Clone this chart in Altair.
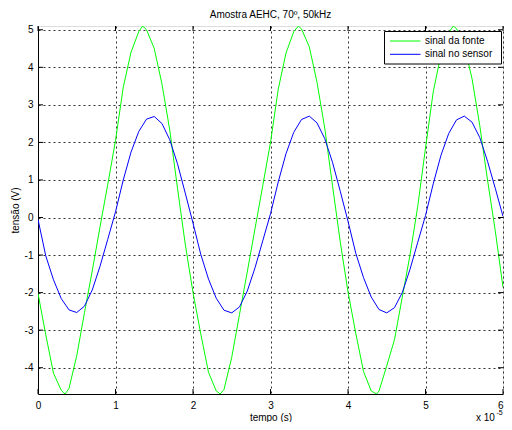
import altair as alt
import pandas as pd

# ---- data (time in units of 1e-5 s, voltage in V) ----
green_t = [0.0, 0.1, 0.2, 0.3, 0.35, 0.4, 0.5, 0.6, 0.7, 0.8, 0.9, 1.0, 1.1, 1.2, 1.3, 1.35, 1.4, 1.5, 1.6, 1.7, 1.8, 1.9,
           2.0, 2.1, 2.2, 2.3, 2.35, 2.4, 2.5, 2.6, 2.7, 2.8, 2.9, 3.0, 3.1, 3.2, 3.3, 3.36, 3.4, 3.5, 3.6, 3.7, 3.8, 3.9,
           4.0, 4.1, 4.2, 4.3, 4.37, 4.4, 4.5, 4.6, 4.7, 4.8, 4.9, 5.0, 5.1, 5.2, 5.3, 5.36, 5.4, 5.5, 5.6, 5.7, 5.8, 5.9,
           6.0]
green_v = [-2.02, -3.12, -4.15, -4.60, -4.70, -4.55, -3.68, -2.53, -1.42, -0.25, 0.88, 2.05, 3.47, 4.40, 4.95, 5.10, 5.00, 4.50, 3.55, 2.33, 0.78, -0.71,
           -2.00, -3.10, -4.12, -4.62, -4.70, -4.58, -3.72, -2.58, -1.45, -0.30, 0.85, 2.00, 3.42, 4.38, 4.95, 5.10, 5.02, 4.55, 3.60, 2.38, 0.85, -0.65,
           -1.98, -3.08, -4.10, -4.62, -4.70, -4.62, -3.95, -3.25, -2.12, -1.00, 0.30, 1.85, 3.35, 4.35, 4.93, 5.10, 5.03, 4.58, 3.70, 2.45, 1.00, -0.35,
           -1.86]

blue_t = [round(0.1 * i, 1) for i in range(61)]
blue_v = [-0.05, -1.02, -1.66, -2.16, -2.46, -2.53, -2.36, -1.93, -1.30, -0.58, 0.15, 1.00, 1.74, 2.29, 2.62, 2.69, 2.50, 2.07, 1.43, 0.65,
          -0.15, -0.98, -1.64, -2.15, -2.47, -2.54, -2.38, -1.96, -1.34, -0.62, 0.10, 0.95, 1.70, 2.27, 2.61, 2.70, 2.52, 2.10, 1.47, 0.70,
          -0.10, -0.95, -1.60, -2.12, -2.45, -2.54, -2.40, -2.00, -1.38, -0.66, 0.05, 0.90, 1.66, 2.24, 2.60, 2.70, 2.54, 2.13, 1.50, 0.78,
          0.03]

series_names = ["sinal da fonte", "sinal no sensor"]
series_colors = ["#00ff00", "#0000ff"]
x_ticks = [0, 1, 2, 3, 4, 5, 6]
y_ticks = [-4, -3, -2, -1, 0, 1, 2, 3, 4, 5]
x_domain = [0, 6]
y_domain = [-4.7, 5.1]
title_text = "Amostra AEHC, 70º, 50kHz"

FONT = "Liberation Sans"
W, H = 465, 368

df = pd.concat([
    pd.DataFrame({"t": green_t, "v": green_v, "s": series_names[0]}),
    pd.DataFrame({"t": blue_t, "v": blue_v, "s": series_names[1]}),
])

xs = alt.Scale(domain=x_domain, nice=False, zero=False)
ys = alt.Scale(domain=y_domain, nice=False, zero=False)

lines = alt.Chart(df).mark_line(strokeWidth=1, clip=True).encode(
    x=alt.X("t:Q", scale=xs, axis=alt.Axis(
        values=x_ticks, title="tempo (s)", format="d",
        labelAlign={"condition": {"test": "datum.value == 6", "value": "right"}, "value": "center"},
        grid=True, gridDash=[2, 3], gridColor="#000000", gridOpacity=0.8,
        ticks=False, tickSize=0, labelPadding=6, titlePadding=2,
        labelFontSize=10, titleFontSize=10, labelFont=FONT, titleFont=FONT,
        titleFontWeight="normal", labelColor="#000", titleColor="#000",
        domainColor="#000", labelFlush=False)),
    y=alt.Y("v:Q", scale=ys, axis=alt.Axis(
        values=y_ticks, title="tensão (V)", labelExpr="'' + datum.value",
        grid=True, gridDash=[2, 3], gridColor="#000000", gridOpacity=0.8,
        ticks=False, tickSize=0, labelPadding=5, titlePadding=4,
        labelFontSize=10, titleFontSize=10, labelFont=FONT, titleFont=FONT,
        titleFontWeight="normal", labelColor="#000", titleColor="#000",
        domainColor="#000", labelFlush=False)),
    color=alt.Color("s:N", scale=alt.Scale(domain=series_names, range=series_colors), legend=None),
    detail="s:N",
)

# inward tick marks on all four sides
xt = pd.DataFrame({"t": x_ticks})
yt = pd.DataFrame({"v": y_ticks})
tick_bottom = alt.Chart(xt).mark_rule(color="#000", strokeWidth=1).encode(
    x=alt.X("t:Q", scale=xs), y=alt.value(H), y2=alt.value(H - 5))
tick_top = alt.Chart(xt).mark_rule(color="#000", strokeWidth=1).encode(
    x=alt.X("t:Q", scale=xs), y=alt.value(0), y2=alt.value(5))
tick_left = alt.Chart(yt).mark_rule(color="#000", strokeWidth=1).encode(
    y=alt.Y("v:Q", scale=ys), x=alt.value(0), x2=alt.value(5))
tick_right = alt.Chart(yt).mark_rule(color="#000", strokeWidth=1).encode(
    y=alt.Y("v:Q", scale=ys), x=alt.value(W), x2=alt.value(W - 5))

one = pd.DataFrame({"a": [0]})

# title
title_mark = alt.Chart(one).mark_text(align="center", baseline="middle", font=FONT, fontSize=10, color="#000").encode(
    x=alt.value(W / 2), y=alt.value(-11), text=alt.value(title_text))

# legend box (MATLAB style, inside top-right)
leg_box = alt.Chart(one).mark_rect(fill="white", stroke="#000", strokeWidth=1).encode(
    x=alt.value(346.5), x2=alt.value(463.5), y=alt.value(5.5), y2=alt.value(38))
leg_lines = []
leg_texts = []
for i, (name, col) in enumerate(zip(series_names, series_colors)):
    yy = 15 + i * 13.3
    leg_lines.append(alt.Chart(one).mark_rule(color=col, strokeWidth=1).encode(
        x=alt.value(352), x2=alt.value(382.5), y=alt.value(yy)))
    leg_texts.append(alt.Chart(one).mark_text(
        align="left", baseline="middle", font=FONT, fontSize=10, color="#000").encode(
        x=alt.value(387), y=alt.value(yy), text=alt.value(name)))

# "x 10^-5" exponent annotation
exp_main = alt.Chart(one).mark_text(align="left", baseline="middle", font=FONT, fontSize=10, color="#000").encode(
    x=alt.value(438), y=alt.value(392), text=alt.value("x 10"))
exp_sup = alt.Chart(one).mark_text(align="left", baseline="middle", font=FONT, fontSize=7, color="#000").encode(
    x=alt.value(458.5), y=alt.value(387), text=alt.value("-5"))

chart = alt.layer(
    lines, tick_bottom, tick_top, tick_left, tick_right,
    leg_box, *leg_lines, *leg_texts, exp_main, exp_sup, title_mark,
).properties(
    width=W, height=H,
    autosize=alt.AutoSizeParams(type="none"),
    padding={"left": 30, "top": 18, "right": 1, "bottom": 28},
).configure_view(stroke="#000", strokeWidth=1).configure(background="white")

chart.save("out.html", embed_options={"renderer": "svg", "actions": False})
